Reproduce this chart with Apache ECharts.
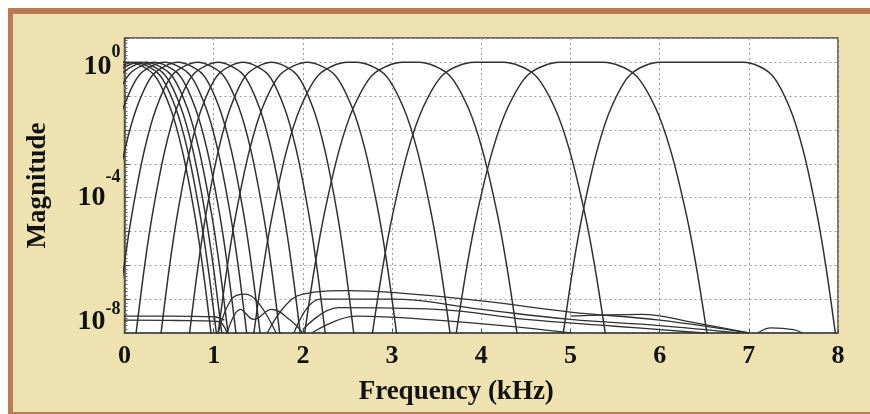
<!DOCTYPE html>
<html>
<head>
<meta charset="utf-8">
<script src="https://cdn.jsdelivr.net/npm/echarts@6/dist/echarts.min.js"></script>
<style>
html,body{margin:0;padding:0;background:#fff;}
#c{width:870px;height:414px;}
</style>
</head>
<body>
<div id="c"></div>
<script>
// ---- data (frequency in kHz, magnitude as log10 exponent) ----
const xTicks = [0, 1, 2, 3, 4, 5, 6, 7, 8];
const yTickLabels = { '0': '0', '-4': '-4', '-8': '-8' };
// magnitude levels (log10) at which each filter's frequencies were read
const levels = [-9.3, -8, -6.08, -4.48, -2.61, -1.32, -0.35, 0, 0, -0.35, -1.32, -2.61, -4.48, -6.08, -8, -9.3];
// frequencies (kHz) where each filter crosses the levels above
const f01 = [-1.075, -1.02, -0.928, -0.836, -0.698, -0.56, -0.376, -0.1, 0.05, 0.326, 0.51, 0.648, 0.786, 0.878, 0.97, 1.025];
const f02 = [-0.865, -0.81, -0.718, -0.626, -0.488, -0.35, -0.166, 0.11, 0.11, 0.386, 0.57, 0.708, 0.846, 0.938, 1.03, 1.085];
const f03 = [-0.805, -0.75, -0.658, -0.566, -0.428, -0.29, -0.106, 0.17, 0.17, 0.446, 0.63, 0.768, 0.906, 0.998, 1.09, 1.145];
const f04 = [-0.735, -0.68, -0.588, -0.496, -0.358, -0.22, -0.036, 0.24, 0.24, 0.516, 0.70, 0.838, 0.976, 1.068, 1.16, 1.215];
const f05 = [-0.645, -0.59, -0.498, -0.406, -0.268, -0.13, 0.054, 0.33, 0.33, 0.606, 0.79, 0.928, 1.066, 1.158, 1.25, 1.305];
const f06 = [-0.525, -0.47, -0.378, -0.286, -0.148, -0.01, 0.174, 0.45, 0.45, 0.726, 0.91, 1.048, 1.186, 1.278, 1.37, 1.425];
const f07 = [-0.375, -0.32, -0.228, -0.136, 0.002, 0.14, 0.324, 0.60, 0.60, 0.876, 1.06, 1.198, 1.336, 1.428, 1.52, 1.575];
const f08 = [-0.155, -0.10, -0.008, 0.084, 0.222, 0.36, 0.544, 0.82, 0.82, 1.096, 1.28, 1.418, 1.556, 1.648, 1.74, 1.795];
const f09 = [0.075, 0.13, 0.222, 0.314, 0.452, 0.59, 0.774, 1.05, 1.05, 1.326, 1.51, 1.648, 1.786, 1.878, 1.97, 2.025];
const f10 = [0.355, 0.41, 0.502, 0.594, 0.732, 0.87, 1.054, 1.33, 1.33, 1.606, 1.79, 1.928, 2.066, 2.158, 2.25, 2.305];
const f11 = [0.675, 0.73, 0.822, 0.914, 1.052, 1.19, 1.374, 1.65, 1.65, 1.926, 2.11, 2.248, 2.386, 2.478, 2.57, 2.625];
const f12 = [0.99, 1.05, 1.15, 1.25, 1.40, 1.55, 1.75, 2.05, 2.05, 2.35, 2.55, 2.70, 2.85, 2.95, 3.05, 3.11];
const f13 = [1.387, 1.45, 1.555, 1.66, 1.817, 1.975, 2.185, 2.5, 2.6, 2.915, 3.125, 3.283, 3.44, 3.545, 3.65, 3.713];
const f14 = [1.954, 2.02, 2.13, 2.24, 2.405, 2.57, 2.79, 3.12, 3.30, 3.63, 3.85, 4.015, 4.18, 4.29, 4.40, 4.466];
const f15 = [2.712, 2.78, 2.894, 3.008, 3.179, 3.35, 3.578, 3.92, 4.25, 4.592, 4.82, 4.991, 5.162, 5.276, 5.39, 5.458];
const f16 = [3.65, 3.72, 3.836, 3.952, 4.126, 4.30, 4.532, 4.88, 5.37, 5.718, 5.95, 6.124, 6.298, 6.414, 6.53, 6.60];
const f17 = [4.855, 4.92, 5.028, 5.136, 5.298, 5.46, 5.676, 6.0, 6.94, 7.249, 7.455, 7.61, 7.764, 7.867, 7.97, 8.032];
const filters = [f01, f02, f03, f04, f05, f06, f07, f08, f09, f10, f11, f12, f13, f14, f15, f16, f17];

// stop-band residue curves [kHz, log10 magnitude]
const sb1 = [[0, -7.5], [0.5, -7.5], [1.0, -7.52], [1.12, -7.62]];
const sb2 = [[0, -7.62], [0.6, -7.63], [1.05, -7.66], [1.15, -8.0]];
const sb3 = [[1.6, -8.0], [1.8, -7.2], [2.0, -6.85], [2.5, -6.75], [3.0, -6.8], [4.0, -7.05], [5.0, -7.38], [6.0, -7.62], [7.0, -8.0]];
const sb4 = [[1.9, -8.0], [2.2, -7.0], [3.0, -7.0], [4.0, -7.3], [5.0, -7.6], [6.0, -7.78], [6.9, -8.0]];
const sb5 = [[2.0, -7.9], [2.4, -7.25], [3.5, -7.3], [4.5, -7.6], [5.5, -7.8], [6.5, -8.0]];
const sb6 = [[2.1, -8.0], [2.6, -7.5], [3.5, -7.62], [4.5, -7.85], [5.0, -8.0]];
const sb7 = [[1.05, -8.0], [1.2, -7.0], [1.35, -6.85], [1.5, -7.1], [1.7, -8.0]];
const sb8 = [[1.15, -8.0], [1.3, -7.3], [1.45, -7.6], [1.65, -7.3], [1.85, -7.6], [2.0, -8.0]];
const sb9 = [[7.1, -8.0], [7.25, -7.85], [7.5, -7.9], [7.6, -8.0]];
const sb10 = [[5.0, -7.5], [5.8, -7.45], [6.4, -7.7], [7.0, -8.0]];
const stopbands = [sb1, sb2, sb3, sb4, sb5, sb6, sb7, sb8, sb9, sb10];

const serif = '"Liberation Serif", "Times New Roman", serif';
const lineColor = '#303030';

const series = [];
filters.forEach(function (fr) {
  series.push({
    type: 'line', showSymbol: false, smooth: 0.3, clip: true,
    lineStyle: { color: lineColor, width: 1.5 },
    data: fr.map(function (f, i) { return [f, levels[i]]; })
  });
});
stopbands.forEach(function (sb) {
  series.push({
    type: 'line', showSymbol: false, smooth: 0.4, clip: true,
    lineStyle: { color: lineColor, width: 1.3 },
    data: sb
  });
});

const chart = echarts.init(document.getElementById('c'), null, { renderer: 'canvas' });
chart.setOption({
  animation: false,
  backgroundColor: '#EEE2B1',
  graphic: [
    { type: 'rect', shape: { x: 0, y: 0, width: 870, height: 8 }, style: { fill: '#ffffff' }, silent: true },
    { type: 'rect', shape: { x: 0, y: 0, width: 8, height: 414 }, style: { fill: '#ffffff' }, silent: true },
    { type: 'rect', shape: { x: 8, y: 8, width: 862, height: 6 }, style: { fill: '#B97A55' }, silent: true },
    { type: 'rect', shape: { x: 8, y: 8, width: 5, height: 406 }, style: { fill: '#B97A55' }, silent: true },
    { type: 'rect', shape: { x: 8, y: 412, width: 862, height: 2 }, style: { fill: '#B97A55' }, silent: true }
  ],
  grid: {
    left: 124.5, right: 32, top: 38, bottom: 81,
    show: true, backgroundColor: '#ffffff', borderColor: '#4a4a4a', borderWidth: 1.5
  },
  xAxis: {
    type: 'value', min: xTicks[0], max: xTicks[xTicks.length - 1], interval: 1,
    name: 'Frequency (kHz)', nameLocation: 'middle', nameGap: 46,
    nameTextStyle: { fontFamily: serif, fontWeight: 'bold', fontSize: 27, color: '#111', padding: [0, 50, 0, 0] },
    axisLine: { show: true, onZero: false, lineStyle: { color: '#4a4a4a', width: 1.5 } },
    axisTick: { show: true, inside: true, length: 4, lineStyle: { color: '#4a4a4a' } },
    axisLabel: { fontFamily: serif, fontWeight: 'bold', fontSize: 26, color: '#111', margin: 10,
      formatter: function (v) { return xTicks.indexOf(v) >= 0 ? String(v) : ''; } },
    splitLine: { show: true, lineStyle: { color: '#9a9a9a', type: [2, 3], width: 1 } }
  },
  yAxis: {
    type: 'value', min: -8, max: 0.72, interval: 1,
    name: 'Magnitude', nameLocation: 'middle', nameGap: 73, nameRotate: 90,
    nameTextStyle: { fontFamily: serif, fontWeight: 'bold', fontSize: 27, color: '#111' },
    axisLine: { show: true, onZero: false, lineStyle: { color: '#4a4a4a', width: 1.5 } },
    axisTick: { show: true, inside: true, length: 5, lineStyle: { color: '#4a4a4a' } },
    minorTick: { show: true, splitNumber: 9, length: 3, lineStyle: { color: '#6a6a6a' } },
    axisLabel: {
      margin: 4,
      formatter: function (v) {
        const k = String(Math.round(v * 100) / 100);
        if (!(k in yTickLabels) || Math.abs(v - Math.round(v)) > 1e-6) return '';
        if (k === '0') return '{a0|10}{s0|' + yTickLabels[k] + '}';
        if (k === '-4') return '{a4|10}{s4|' + yTickLabels[k] + '}';
        return '{a8|10}{s8|' + yTickLabels[k] + '}';
      },
      rich: {
        a0: { fontFamily: serif, fontWeight: 'bold', fontSize: 28, color: '#111', padding: [9, 0, 0, 0] },
        s0: { fontFamily: serif, fontWeight: 'bold', fontSize: 18, color: '#111', padding: [0, 0, 20, 0] },
        a4: { fontFamily: serif, fontWeight: 'bold', fontSize: 28, color: '#111' },
        s4: { fontFamily: serif, fontWeight: 'bold', fontSize: 18, color: '#111', padding: [0, 0, 40, 0] },
        a8: { fontFamily: serif, fontWeight: 'bold', fontSize: 28, color: '#111', padding: [0, 0, 22, 0] },
        s8: { fontFamily: serif, fontWeight: 'bold', fontSize: 18, color: '#111', padding: [0, 0, 48, 0] }
      }
    },
    splitLine: { show: true, lineStyle: { color: '#9a9a9a', type: [2, 3], width: 1 } }
  },
  series: series
});
</script>
</body>
</html>
